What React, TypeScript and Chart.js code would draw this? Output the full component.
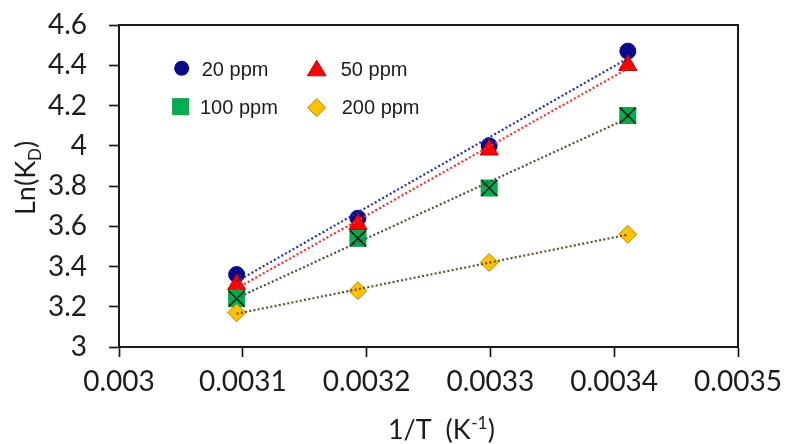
import React, { useEffect, useRef } from 'react';
import { Chart, registerables } from 'chart.js';

Chart.register(...registerables);

// ---- data ----
const invT = [0.003095, 0.003193, 0.003299, 0.003411];
const ppm20 = [3.36, 3.64, 4.0, 4.47];
const ppm50 = [3.31, 3.61, 3.98, 4.4];
const ppm100 = [3.24, 3.54, 3.79, 4.15];
const ppm200 = [3.17, 3.28, 3.42, 3.56];
const seriesLabels = ['20 ppm', '50 ppm', '100 ppm', '200 ppm'];
const xTickValues = [0.003, 0.0031, 0.0032, 0.0033, 0.0034, 0.0035];
const yTickValues = [3, 3.2, 3.4, 3.6, 3.8, 4, 4.2, 4.4, 4.6];
const xTitleMain = '1/T  (K';
const xTitleSup = '-1';
const xTitleEnd = ')';
const yTitleMain = 'Ln(K';
const yTitleSub = 'D';
const yTitleEnd = ')';

// ---- styles ----
const C20 = '#0a0a8c';
const C50 = '#ff0000';
const C100 = '#00b050';
const C200 = '#ffc000';
const TICK_FONT = 'Lato';
const LEGEND_FONT = '"Liberation Sans", Arial, sans-serif';
const TEXT = '#1c1c1c';

function fit(xs: number[], ys: number[]) {
  const n = xs.length;
  const mx = xs.reduce((a, b) => a + b, 0) / n;
  const my = ys.reduce((a, b) => a + b, 0) / n;
  let sxy = 0, sxx = 0;
  for (let i = 0; i < n; i++) {
    sxy += (xs[i] - mx) * (ys[i] - my);
    sxx += (xs[i] - mx) * (xs[i] - mx);
  }
  const b = sxy / sxx;
  const a = my - b * mx;
  const x0 = Math.min(...xs), x1 = Math.max(...xs);
  return [
    { x: x0, y: a + b * x0 },
    { x: x1, y: a + b * x1 },
  ];
}

const pts = (ys: number[]) => ys.map((y, i) => ({ x: invT[i], y }));

const frameAndTextPlugin = {
  id: 'frameAndText',
  afterDraw(chart: any) {
    const { ctx, chartArea } = chart;
    ctx.save();
    // top & right frame
    ctx.strokeStyle = '#1a1a1a';
    ctx.lineWidth = 2;
    ctx.beginPath();
    ctx.moveTo(chartArea.left, chartArea.top);
    ctx.lineTo(chartArea.right, chartArea.top);
    ctx.lineTo(chartArea.right, chartArea.bottom);
    ctx.stroke();

    // legend
    const drawMarker = (kind: string, x: number, y: number) => {
      ctx.save();
      ctx.lineWidth = 1;
      if (kind === 'circle') {
        ctx.fillStyle = C20;
        ctx.beginPath();
        ctx.arc(x, y, 7.5, 0, Math.PI * 2);
        ctx.fill();
      } else if (kind === 'tri') {
        ctx.fillStyle = C50;
        ctx.strokeStyle = '#c00000';
        ctx.beginPath();
        ctx.moveTo(x, y - 8);
        ctx.lineTo(x + 9.3, y + 7.5);
        ctx.lineTo(x - 9.3, y + 7.5);
        ctx.closePath();
        ctx.fill();
        ctx.stroke();
      } else if (kind === 'sq') {
        ctx.fillStyle = C100;
        ctx.strokeStyle = '#119a48';
        ctx.fillRect(x - 8, y - 8, 16, 16);
        ctx.strokeRect(x - 8, y - 8, 16, 16);
      } else {
        ctx.fillStyle = C200;
        ctx.strokeStyle = '#b08a10';
        ctx.beginPath();
        ctx.moveTo(x, y - 9);
        ctx.lineTo(x + 9, y);
        ctx.lineTo(x, y + 9);
        ctx.lineTo(x - 9, y);
        ctx.closePath();
        ctx.fill();
        ctx.stroke();
      }
      ctx.restore();
    };
    drawMarker('circle', 181.7, 68.3);
    drawMarker('tri', 316.7, 68.3);
    drawMarker('sq', 180.7, 106.7);
    drawMarker('dia', 316.7, 107.7);
    ctx.fillStyle = TEXT;
    ctx.font = '20px ' + LEGEND_FONT;
    ctx.textAlign = 'left';
    ctx.textBaseline = 'alphabetic';
    ctx.fillText(seriesLabels[0], 201.7, 75.5);
    ctx.fillText(seriesLabels[1], 340.7, 75.5);
    ctx.fillText(seriesLabels[2], 200, 114);
    ctx.fillText(seriesLabels[3], 341.7, 114);

    // x title
    const big = '27px ' + TICK_FONT;
    const small = '17px ' + TICK_FONT;
    ctx.font = big;
    const w1 = ctx.measureText(xTitleMain).width;
    const w3 = ctx.measureText(xTitleEnd).width;
    ctx.font = small;
    const w2 = ctx.measureText(xTitleSup).width;
    const total = w1 + w2 + w3;
    const sx = 441 - total / 2;
    const by = 439;
    ctx.font = big;
    ctx.fillText(xTitleMain, sx, by);
    ctx.font = small;
    ctx.fillText(xTitleSup, sx + w1 + 0.5, by - 10);
    ctx.font = big;
    ctx.fillText(xTitleEnd, sx + w1 + w2 + 1, by);

    // y title
    ctx.translate(35, 215);
    ctx.rotate(-Math.PI / 2);
    ctx.font = big;
    const v1 = ctx.measureText(yTitleMain).width;
    ctx.fillText(yTitleMain, 0, 0);
    ctx.font = small;
    const v2 = ctx.measureText(yTitleSub).width;
    ctx.fillText(yTitleSub, v1, 6);
    ctx.font = big;
    ctx.fillText(yTitleEnd, v1 + v2, 0);
    ctx.restore();
  },
};

export default function App() {
  const ref = useRef<HTMLCanvasElement | null>(null);
  useEffect(() => {
    document.body.style.margin = '0';
    const canvas = ref.current!;
    const dotted = (color: string) => ({
      borderColor: color,
      borderWidth: 2.2,
      borderDash: [2, 2.3],
      pointRadius: 0,
      fill: false,
      showLine: true,
    });
    const chart = new Chart(canvas, {
      type: 'scatter',
      data: {
        datasets: [
          { label: 't20', data: fit(invT, ppm20), ...dotted('#1f2fb0'), order: 0 } as any,
          { label: 't50', data: fit(invT, ppm50), ...dotted('#ff2a2a'), order: 0 } as any,
          { label: 't100', data: fit(invT, ppm100), ...dotted('#46553a'), order: 0 } as any,
          { label: 't200', data: fit(invT, ppm200), ...dotted('#5e5430'), order: 0 } as any,
          {
            label: seriesLabels[3], data: pts(ppm200), pointStyle: 'rectRot', pointRadius: 9,
            backgroundColor: C200, borderColor: '#b08a10', borderWidth: 1, order: 1,
          },
          {
            label: 'x100', data: pts(ppm100), pointStyle: 'crossRot', pointRadius: 11.3,
            borderColor: '#1a1a1a', borderWidth: 1.6, order: 2,
          },
          {
            label: seriesLabels[2], data: pts(ppm100), pointStyle: 'rect', pointRadius: 11.3,
            backgroundColor: C100, borderColor: '#119a48', borderWidth: 1, order: 3,
          },
          {
            label: seriesLabels[1], data: pts(ppm50), pointStyle: 'triangle', pointRadius: 10.5,
            backgroundColor: C50, borderColor: '#c00000', borderWidth: 1, order: 4,
          },
          {
            label: seriesLabels[0], data: pts(ppm20), pointStyle: 'circle', pointRadius: 8,
            backgroundColor: C20, borderColor: C20, borderWidth: 1, order: 5,
          },
        ],
      },
      options: {
        animation: false,
        responsive: false,
        maintainAspectRatio: false,
        layout: { autoPadding: false, padding: { top: 25, right: 47, left: 0, bottom: 0 } },
        plugins: { legend: { display: false }, tooltip: { enabled: false }, title: { display: false } },
        scales: {
          x: {
            type: 'linear',
            min: 0.003,
            max: 0.0035,
            afterBuildTicks: (s: any) => { s.ticks = xTickValues.map((v) => ({ value: v })); },
            afterFit: (s: any) => { s.height = 97; s.paddingLeft = 0; s.paddingRight = 0; s.paddingTop = 0; s.paddingBottom = 0; },
            grid: { drawOnChartArea: false, drawTicks: true, tickLength: 10, tickColor: '#1a1a1a', tickWidth: 1.7 },
            border: { display: true, color: '#1a1a1a', width: 2 },
            ticks: {
              color: TEXT,
              font: { family: TICK_FONT, size: 28 },
              padding: 8,
              maxRotation: 0,
              autoSkip: false,
              callback: (v: any) => String(Number(Number(v).toFixed(4))),
            },
          },
          y: {
            type: 'linear',
            min: 3,
            max: 4.6,
            afterBuildTicks: (s: any) => { s.ticks = yTickValues.map((v) => ({ value: v })); },
            afterFit: (s: any) => { s.width = 119; s.paddingTop = 0; s.paddingBottom = 0; s.paddingLeft = 0; s.paddingRight = 0; },
            grid: { drawOnChartArea: false, drawTicks: true, tickLength: 10, tickColor: '#1a1a1a', tickWidth: 1.7 },
            border: { display: true, color: '#1a1a1a', width: 2 },
            ticks: {
              color: TEXT,
              font: { family: TICK_FONT, size: 28 },
              padding: 22,
              autoSkip: false,
              callback: (v: any) => String(Number(Number(v).toFixed(1))),
            },
          },
        },
      },
      plugins: [frameAndTextPlugin],
    });
    return () => chart.destroy();
  }, []);
  return (
    <div style={{ width: 785, height: 444, background: '#fff' }}>
      <canvas ref={ref} width={785} height={444} style={{ display: 'block' }} />
    </div>
  );
}
